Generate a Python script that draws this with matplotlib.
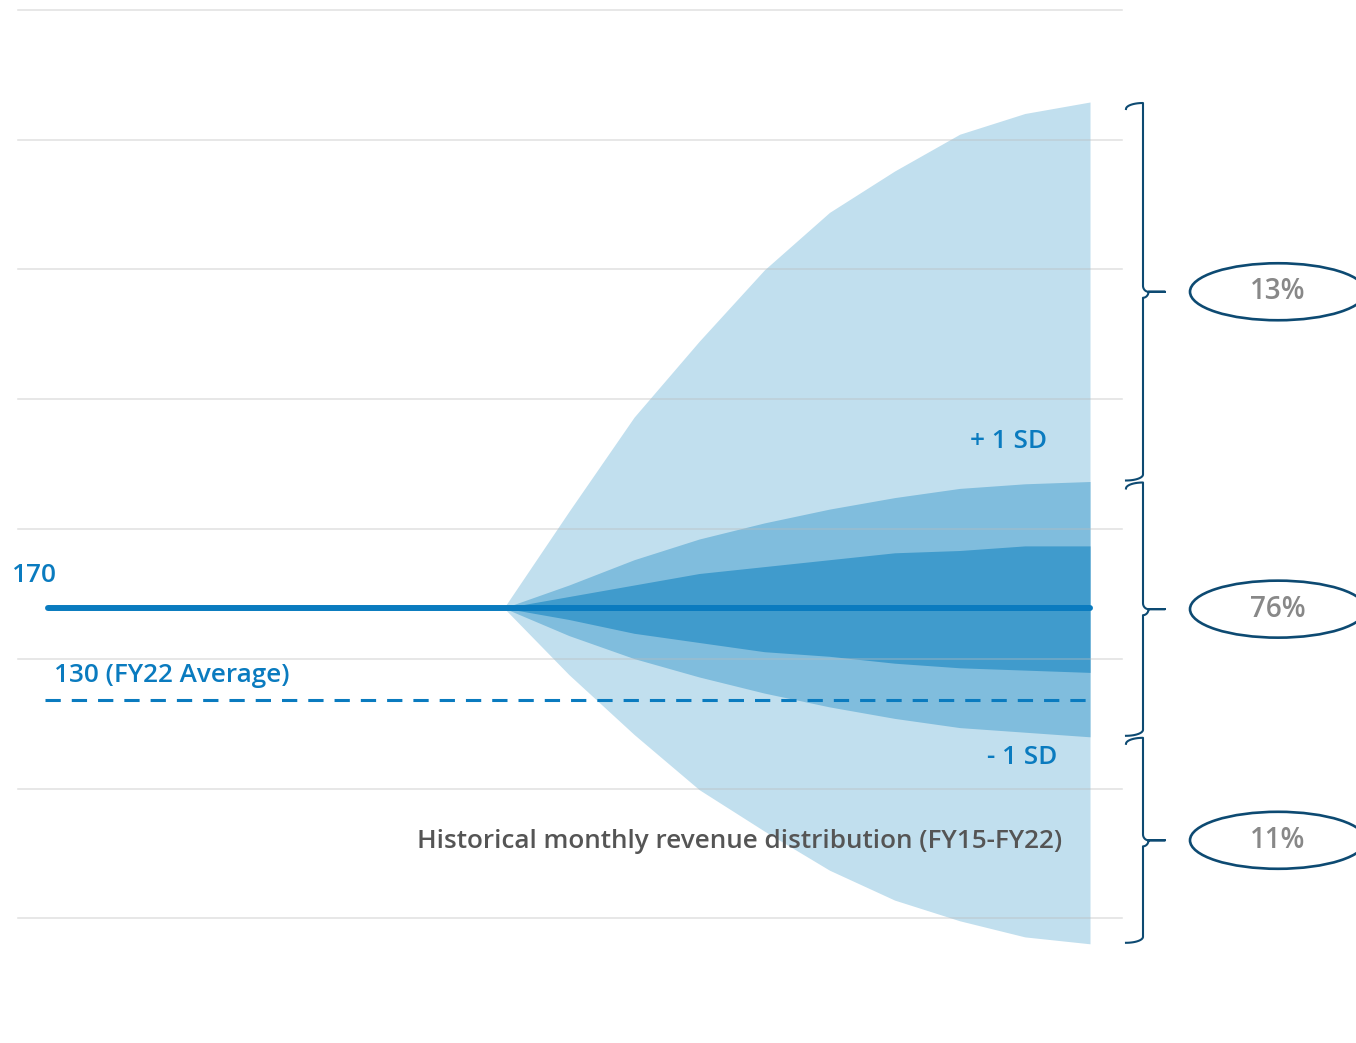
import matplotlib
matplotlib.use("Agg")
import matplotlib.pyplot as plt
from matplotlib.patches import Ellipse
import numpy as np

plt.rcParams['font.family'] = ['Open Sans', 'DejaVu Sans']

# ---- data ----
months = list(range(17))              # month index along the horizontal axis
fan_months = list(range(7, 17))       # months where the fan is drawn
current_level = 170
fy22_average = 130
outer_upper = [170, 212, 253, 286, 317, 342, 360, 376, 385, 390]
outer_lower = [170, 141, 115, 91, 73, 56, 43, 34, 27, 24]
middle_upper = [170, 180, 191, 200, 207, 213, 218, 222, 224, 225]
middle_lower = [170, 158, 148, 140, 133, 127, 122, 118, 116, 114]
inner_upper = [170, 175, 180, 185, 188, 191, 194, 195, 197, 197]
inner_lower = [170, 165, 159, 155, 151, 149, 146, 144, 143, 142]
grid_values = [430.0, 373.5, 317.4, 260.9, 204.3, 147.8, 91.3, 35.2]
shares = ["13%", "76%", "11%"]

# ---- figure ----
W, H = 1356, 1043
fig = plt.figure(figsize=(W / 100, H / 100), dpi=100)
ax = fig.add_axes([0, 0, 1, 1])
x0_px, step_px = 48, 65.125
y0_px, unit_px = 608, 2.3
ax.set_xlim(-x0_px / step_px, (W - x0_px) / step_px)
ax.set_ylim(170 - (H - y0_px) / unit_px, 170 + y0_px / unit_px)
ax.axis('off')

def px2x(p):
    return (p - x0_px) / step_px

def dy(p):
    return p / unit_px

blue = '#0a7bbf'
navy = '#0d4a72'
FW = 'semibold'
FS = 18.8

ax.fill_between(fan_months, outer_lower, outer_upper, color='#c1dfee', lw=0, zorder=1)
ax.fill_between(fan_months, middle_lower, middle_upper, color='#80bddd', lw=0, zorder=2)
ax.fill_between(fan_months, inner_lower, inner_upper, color='#409bcc', lw=0, zorder=3)

for g in grid_values:
    ax.plot([px2x(18), px2x(1122)], [g, g], color='#bbbbbb', lw=1.1, alpha=0.45, zorder=4)

ax.plot([months[0], months[-1]], [current_level, current_level], color=blue, lw=4.3,
        solid_capstyle='round', zorder=6)
ax.plot([px2x(45), months[-1]], [fy22_average, fy22_average], color=blue, lw=2.2,
        dashes=(5, 3.6), zorder=6)

ax.text(px2x(12), current_level + dy(33), str(current_level), color=blue, fontsize=FS,
        fontweight=FW, va='center', ha='left')
ax.text(px2x(54), fy22_average + dy(24), f"{fy22_average} (FY22 Average)", color=blue,
        fontsize=FS, fontweight=FW, va='center', ha='left')
ax.text(px2x(1047), current_level + dy(167), "+ 1 SD", color=blue, fontsize=FS,
        fontweight=FW, va='center', ha='right', zorder=7)
ax.text(px2x(1057), current_level - dy(149), "- 1 SD", color=blue, fontsize=FS,
        fontweight=FW, va='center', ha='right', zorder=7)
ax.text(px2x(1062), current_level - dy(234), "Historical monthly revenue distribution (FY15-FY22)",
        color='#555555', fontsize=FS, fontweight=FW, va='center', ha='right', zorder=7)

# braces + ellipses
segments = [(outer_upper[-1], middle_upper[-1]),
            (middle_upper[-1], middle_lower[-1]),
            (middle_lower[-1], outer_lower[-1])]
xb = px2x(1143)
hook = px2x(1126) - xb
tipw = px2x(1165) - xb
r = dy(6)
s = np.linspace(0, np.pi / 2, 15)
for (top, bot), label in zip(segments, shares):
    top -= dy(1)
    bot += dy(1)
    mid = (top + bot) / 2
    px, py = [], []
    px += list(xb + hook * np.cos(s))
    py += list(top - r * (1 - np.sin(s)))
    px += [xb, xb]
    py += [top - r, mid + r]
    px += list(xb + (tipw * 0.25) * (1 - np.cos(s)))
    py += list(mid + r * (1 - np.sin(s)))
    px += [xb + tipw, xb + tipw * 0.25]
    py += [mid, mid]
    px += list(xb + (tipw * 0.25) * np.cos(s))
    py += list(mid - r * np.sin(s))
    px += [xb, xb]
    py += [mid - r, bot + r]
    px += list(xb + hook * (1 - np.cos(s)))
    py += list(bot + r * (1 - np.sin(s)))
    ax.plot(px, py, color=navy, lw=1.5, solid_joinstyle='round', zorder=5, clip_on=False)
    ell = Ellipse((px2x(1278), mid), width=176 / step_px, height=dy(57), fill=False,
                  edgecolor=navy, lw=1.9, zorder=6)
    ax.add_patch(ell)
    ax.text(px2x(1278), mid, label, color='#888888', fontsize=20, fontweight=FW,
            ha='center', va='center', zorder=7)

fig.savefig('out.png', dpi=100)
